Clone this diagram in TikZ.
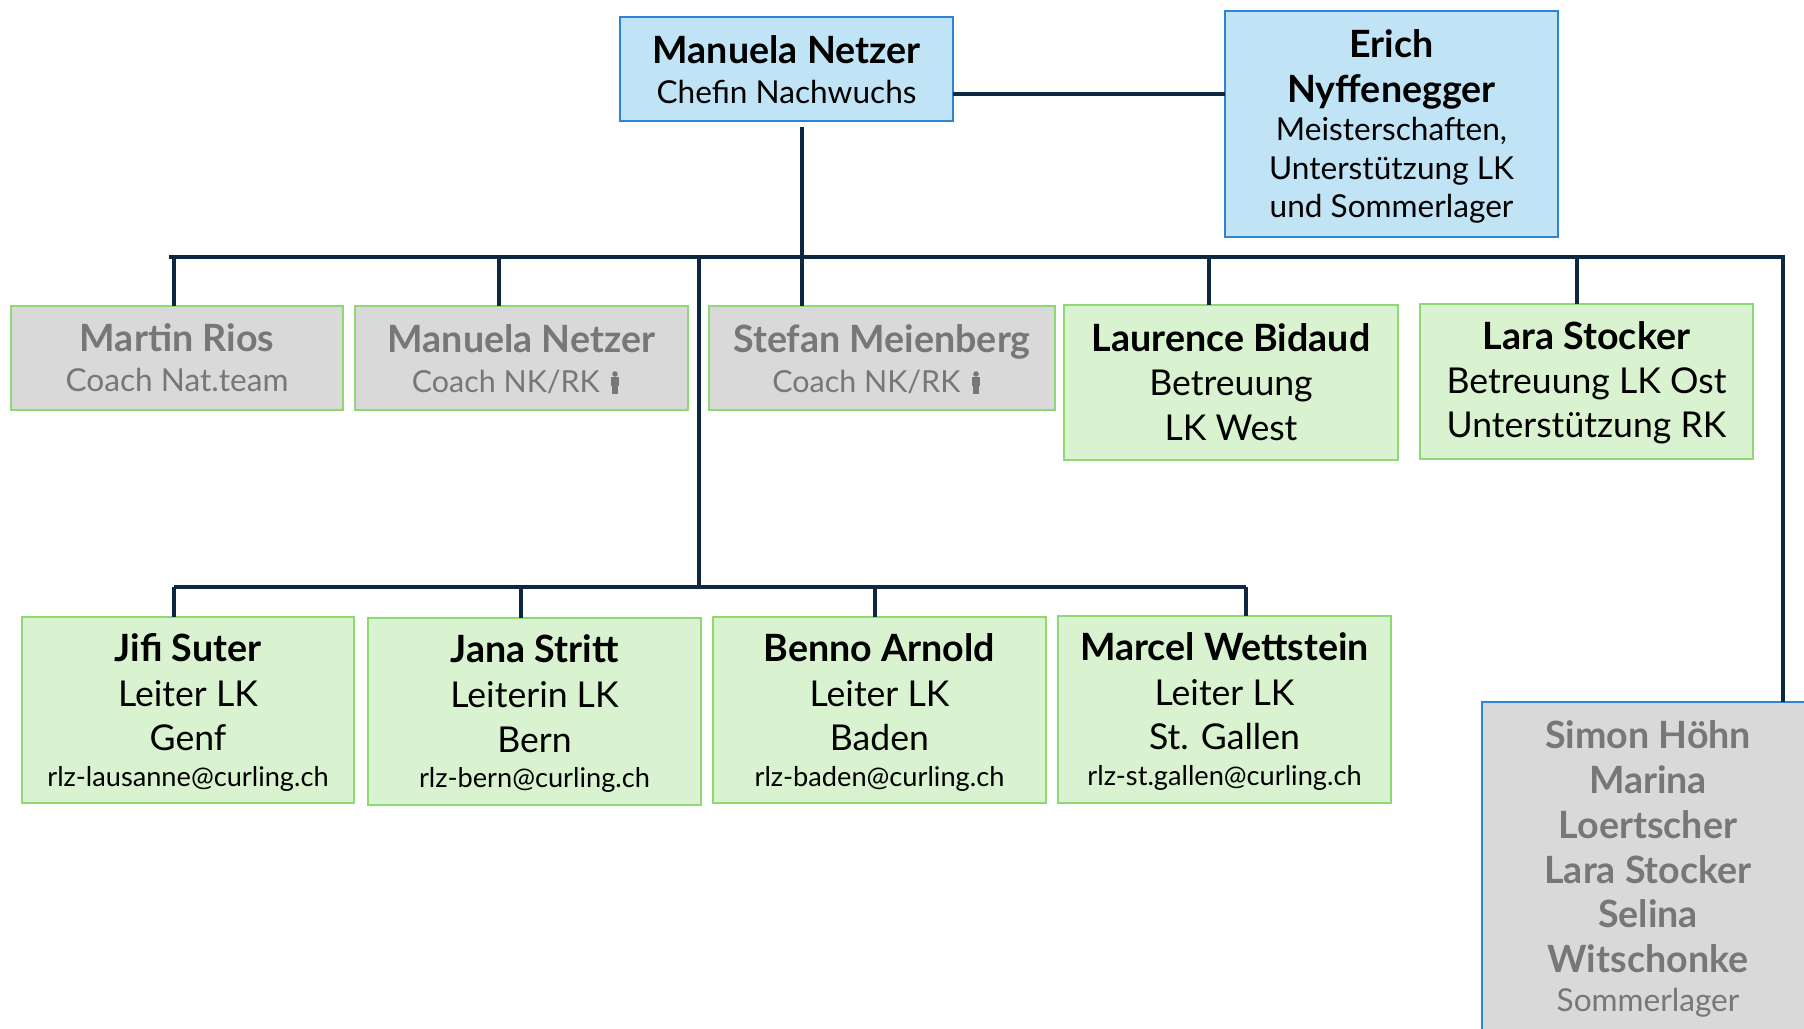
\documentclass[tikz,border=0pt]{standalone}
\usepackage{fontspec}
\setmainfont{Lato}
\newcommand{\nm}{\fontsize{18.8}{22.4}\selectfont\bfseries}
\newcommand{\bg}{\fontsize{17.8}{22.4}\selectfont}
\newcommand{\md}{\fontsize{15.8}{22.4}\selectfont}
\newcommand{\mdc}{\fontsize{15.2}{22.4}\selectfont}
\newcommand{\sm}{\fontsize{13.6}{22.4}\selectfont}
\newcommand{\tp}[1]{\rule{0pt}{#1pt}}
\definecolor{navy}{HTML}{0E2841}
\definecolor{grnfill}{HTML}{D9F2D0}
\definecolor{grnline}{HTML}{8ED973}
\definecolor{blufill}{HTML}{C0E4F5}
\definecolor{bluline}{HTML}{2E83D6}
\definecolor{gryfill}{HTML}{D9D9D9}
\definecolor{grytext}{HTML}{777777}
\tikzset{
 x=0.5pt,y=-0.5pt,
 orgbox/.style={draw,line width=1pt,inner sep=0pt,outer sep=0pt,align=center,
   font=\fontsize{16.5}{22.4}\selectfont},
 bluebox/.style={orgbox,fill=blufill,draw=bluline,text=black},
 greenbox/.style={orgbox,fill=grnfill,draw=grnline,text=black},
 greybox/.style={orgbox,fill=gryfill,draw=grnline,text=grytext},
 greyblue/.style={orgbox,fill=gryfill,draw=bluline,text=grytext},
 bus/.style={draw=navy,line width=2.1pt},
 drop/.style={draw=navy,line width=1.7pt},
 person/.pic={\fill[grytext] (0,-9) circle (2.8);
   \fill[grytext] (-4,-6) rectangle (4,3);
   \fill[grytext] (-2.8,3) rectangle (2.8,11);}
}
\newcommand{\orgnode}[7]{% style,name,x1,y1,x2,y2,text
 \node[#1,minimum width={(#5-#3)*0.5pt},minimum height={(#6-#4)*0.5pt}] (#2) at ({(#3+#5)/2},{(#4+#6)/2}) {#7};}
\begin{document}
\begin{tikzpicture}
\useasboundingbox (0,0) rectangle (1804,1028);
\orgnode{bluebox}{chef}{620}{17}{953}{121}{{\tp{15}\nm Manuela Netzer}\\[-2.5pt]{\md Chefin Nachwuchs}}
\orgnode{bluebox}{erich}{1225}{11}{1558}{237}{{\tp{16.3}\nm Erich}\\{\nm Nyffenegger}\\[-3pt]{\md Meisterschaften,}\\[-3pt]{\md Unterstützung LK}\\[-3.4pt]{\md und Sommerlager}}
\orgnode{greybox}{rios}{11}{306}{343}{410}{{\nm Martin Rios}\\[-2.5pt]{\md Coach Nat.team}}
\orgnode{greybox}{netzer}{355}{306}{688}{410}{{\tp{15}\nm Manuela Netzer}\\[-2.6pt]{\mdc Coach NK/RK\hspace*{15.6pt}}}
\orgnode{greybox}{meienberg}{709}{306}{1055}{410}{{\tp{15}\nm Stefan Meienberg}\\[-2.6pt]{\mdc Coach NK/RK\hspace*{15.6pt}}}
\pic at (615,383) {person};
\pic at (976,383) {person};
\orgnode{greenbox}{bidaud}{1064}{305}{1398}{460}{{\nm Laurence Bidaud}\\[-0.4pt]{\bg Betreuung}\\{\bg LK West}}
\orgnode{greenbox}{stocker}{1420}{304}{1753}{459}{{\tp{15}\nm Lara Stocker}\\[-0.4pt]{\bg Betreuung LK Ost}\\[-0.4pt]{\bg Unterstützung RK}}
\orgnode{greyblue}{sommer}{1482}{702}{1814}{1036}{{\nm Simon Höhn}\\{\nm Marina}\\{\nm Loertscher}\\{\nm Lara Stocker}\\{\nm Selina}\\{\nm Witschonke}\\[-3pt]{\md Sommerlager}}
\orgnode{greenbox}{suter}{22}{617}{354}{803}{{\tp{16.2}\nm Jifi Suter}\\{\bg Leiter LK}\\{\bg Genf}\\[-4.8pt]{\sm rlz-lausanne@curling.ch}}
\orgnode{greenbox}{stritt}{368}{618}{701}{805}{{\tp{16.2}\nm Jana Stritt}\\{\bg Leiterin LK}\\{\bg Bern}\\[-4.8pt]{\sm rlz-bern@curling.ch}}
\orgnode{greenbox}{arnold}{713}{617}{1046}{803}{{\tp{16.2}\nm Benno Arnold}\\{\bg Leiter LK}\\{\bg Baden}\\[-4.8pt]{\sm rlz-baden@curling.ch}}
\orgnode{greenbox}{wettstein}{1058}{616}{1391}{803}{{\tp{15.6}\nm Marcel Wettstein}\\{\bg Leiter LK}\\{\bg St. Gallen}\\[-4.8pt]{\sm rlz-st.gallen@curling.ch}}
% bus coordinates
\coordinate (busL) at (169,257);
\coordinate (busR) at (1783,257);
\coordinate (subL) at (174,587);
\coordinate (subR) at (1246,587);
\coordinate (trunkTop) at (802,127);
\coordinate (midBus) at (699,257);
\coordinate (midSub) at (699,587);
\coordinate (chefLink) at (953,94);
\draw[bus] (chefLink) -- (erich.west |- chefLink);
\draw[bus] (trunkTop) -- (trunkTop |- busL);
\draw[bus] (busL) -- (busR) -- (busR |- sommer.north);
\draw[bus] (midBus) -- (midSub);
\draw[bus] (subL) -- (subR);
\foreach \px/\tgt in {174/rios,499/netzer,802/meienberg,1209/bidaud,1577/stocker}
  \draw[drop] (\px,257) -- (\px,0 |- \tgt.north);
\foreach \px/\tgt in {174/suter,521/stritt,875/arnold,1246/wettstein}
  \draw[drop] (\px,587) -- (\px,0 |- \tgt.north);
\end{tikzpicture}
\end{document}
